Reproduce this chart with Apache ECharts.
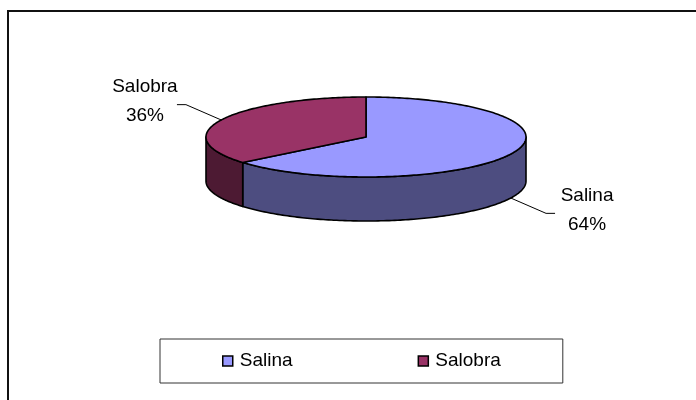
<!DOCTYPE html>
<html>
<head>
<meta charset="utf-8">
<script src="https://cdn.jsdelivr.net/npm/echarts@6/dist/echarts.min.js"></script>
<style>
  html, body { margin: 0; padding: 0; background: #fff; }
  #chart { width: 696px; height: 400px; }
</style>
</head>
<body>
<div id="chart"></div>
<script>
const categories = ['Salina', 'Salobra'];
const values = [64, 36];
const topColors = ['#9999FF', '#993366'];
const sideColors = ['#4D4D80', '#4D1A33'];

// pseudo-3D pie geometry (Excel style tilted disc)
const cx = 366, cy = 137, rx = 160, ry = 40, depth = 44;
const FONT = 'Liberation Sans, Arial, sans-serif';

const total = values.reduce((s, v) => s + v, 0);
const starts = [];
let acc = 0;
values.forEach(v => { starts.push(acc / total * 360); acc += v; });

function pt(theta, dy) {
  const r = theta * Math.PI / 180;
  return [cx + rx * Math.sin(r), cy - ry * Math.cos(r) + dy];
}

function arc(a, b, dy) {
  const pts = [];
  const n = Math.max(2, Math.ceil(Math.abs(b - a)));
  for (let k = 0; k <= n; k++) pts.push(pt(a + (b - a) * k / n, dy));
  return pts;
}

function makeRender(i) {
  return function (params, api) {
    const a = starts[i];
    const b = a + api.value(0) / total * 360;
    const children = [];

    // visible side wall: front half of the disc (90..270 degrees)
    const s = Math.max(a, 90), e = Math.min(b, 270);
    if (e > s) {
      const side = arc(s, e, 0).concat(arc(e, s, depth));
      children.push({
        type: 'polygon',
        shape: { points: side },
        style: { fill: sideColors[i], stroke: '#000', lineWidth: 1.6, lineJoin: 'round' },
        z2: 1
      });
    }

    // top face
    children.push({
      type: 'polygon',
      shape: { points: [[cx, cy]].concat(arc(a, b, 0)) },
      style: { fill: topColors[i], stroke: '#000', lineWidth: 1.6, lineJoin: 'round' },
      z2: 2
    });

    // label with leader line
    const m = (a + b) / 2;
    const mr = m * Math.PI / 180;
    const front = Math.cos(mr) < 0;
    const base = cy + (front ? depth : 0);
    const p0 = [cx + rx * Math.sin(mr), base - ry * Math.cos(mr)];
    const p1 = [cx + 199 * Math.sin(mr), base - 76 * Math.cos(mr)];
    const dir = Math.sin(mr) >= 0 ? 1 : -1;
    const p2 = [p1[0] + dir * 9, p1[1]];
    children.push({
      type: 'polyline',
      shape: { points: [p0, p1, p2] },
      style: { stroke: '#000', lineWidth: 1, fill: null },
      z2: 3
    });
    children.push({
      type: 'text',
      x: p2[0] + dir * 32,
      y: p2[1] - 3,
      style: {
        text: categories[i] + '\n' + Math.round(values[i] / total * 100) + '%',
        fill: '#000',
        font: '19px ' + FONT,
        align: 'center',
        verticalAlign: 'middle',
        lineHeight: 29
      },
      z2: 3
    });

    return { type: 'group', children: children };
  };
}

const chart = echarts.init(document.getElementById('chart'), null, { renderer: 'canvas' });

chart.setOption({
  animation: false,
  backgroundColor: '#fff',
  legend: {
    data: categories,
    left: 160,
    top: 339,
    orient: 'horizontal',
    icon: 'rect',
    itemWidth: 10,
    itemHeight: 10,
    itemGap: 125,
    padding: [12, 62, 12, 62],
    borderColor: '#333',
    borderWidth: 1,
    itemStyle: { borderColor: '#000', borderWidth: 1.5 },
    textStyle: {
      color: '#000',
      fontSize: 19,
      fontFamily: FONT,
      lineHeight: 20,
      padding: [0, 0, 0, 2]
    }
  },
  graphic: [{
    type: 'rect',
    shape: { x: 8, y: 11, width: 800, height: 500 },
    style: { fill: null, stroke: '#111', lineWidth: 2 },
    silent: true
  }],
  series: categories.map((name, i) => ({
    type: 'custom',
    name: name,
    coordinateSystem: 'none',
    itemStyle: { color: topColors[i], borderColor: '#000', borderWidth: 1.5 },
    renderItem: makeRender(i),
    data: [[values[i]]]
  }))
});
</script>
</body>
</html>
